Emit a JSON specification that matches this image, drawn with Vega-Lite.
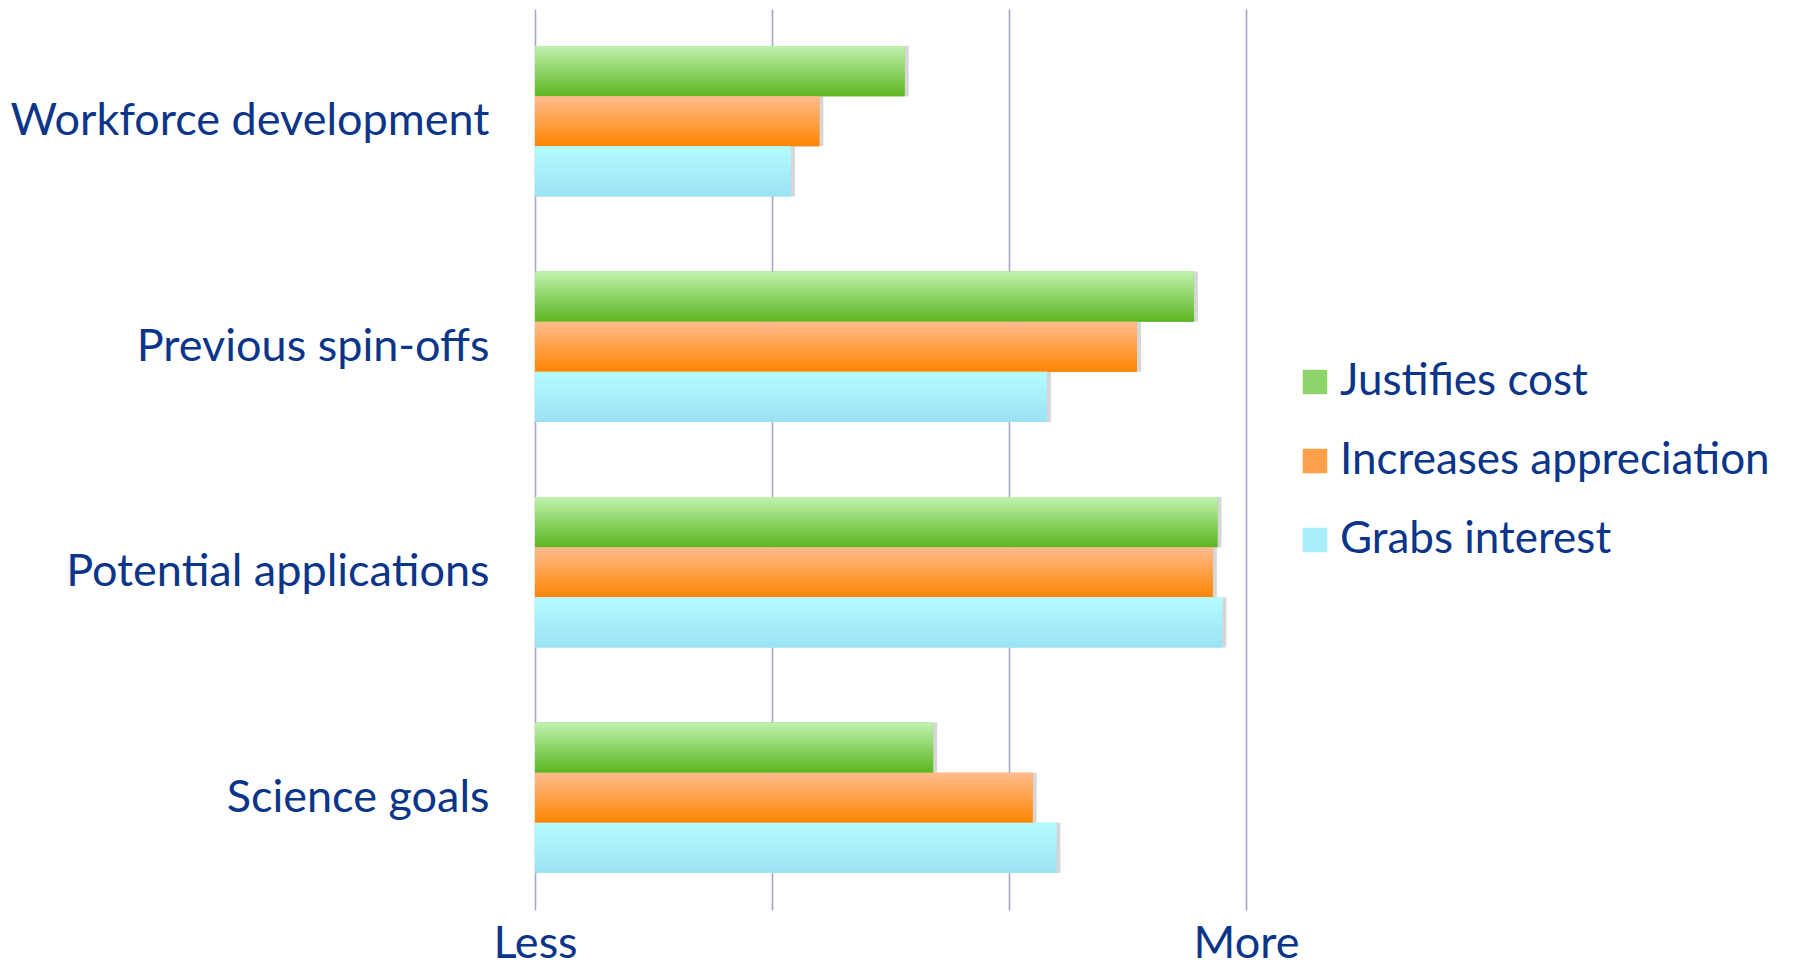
{
  "$schema": "https://vega.github.io/schema/vega-lite/v6.json",
  "autosize": {"type": "none"},
  "padding": {"left": 535, "top": 9, "right": 550, "bottom": 56},
  "width": 711,
  "height": 901,
  "background": "white",
  "config": {
    "view": {"stroke": null},
    "font": "Lato",
    "axis": {"labelFont": "Lato", "labelColor": "#0B3589", "labelFontSize": 45},
    "legend": {"labelFont": "Lato", "labelColor": "#0B3589", "labelFontSize": 44}
  },
  "data": {
    "values": [
      {"category": "Workforce development", "series": "Justifies cost", "value": 1.56},
      {"category": "Workforce development", "series": "Increases appreciation", "value": 1.20},
      {"category": "Workforce development", "series": "Grabs interest", "value": 1.08},
      {"category": "Previous spin-offs", "series": "Justifies cost", "value": 2.78},
      {"category": "Previous spin-offs", "series": "Increases appreciation", "value": 2.54},
      {"category": "Previous spin-offs", "series": "Grabs interest", "value": 2.16},
      {"category": "Potential applications", "series": "Justifies cost", "value": 2.88},
      {"category": "Potential applications", "series": "Increases appreciation", "value": 2.86},
      {"category": "Potential applications", "series": "Grabs interest", "value": 2.90},
      {"category": "Science goals", "series": "Justifies cost", "value": 1.68},
      {"category": "Science goals", "series": "Increases appreciation", "value": 2.10},
      {"category": "Science goals", "series": "Grabs interest", "value": 2.20}
    ]
  },
  "encoding": {
    "y": {
      "field": "category", "type": "nominal",
      "sort": ["Workforce development", "Previous spin-offs", "Potential applications", "Science goals"],
      "scale": {"paddingInner": 0.333, "paddingOuter": 0.164},
      "axis": {"title": null, "ticks": false, "domain": false, "grid": false, "labelPadding": 46, "labelLimit": 0}
    },
    "yOffset": {
      "field": "series", "type": "nominal",
      "sort": ["Justifies cost", "Increases appreciation", "Grabs interest"],
      "scale": {"paddingInner": 0, "paddingOuter": 0}
    },
    "x": {
      "field": "value", "type": "quantitative",
      "scale": {"domain": [0, 3], "nice": false},
      "axis": {
        "title": null, "values": [0, 1, 2, 3], "ticks": false, "domain": false,
        "grid": true, "gridColor": "#A3A8C6", "gridWidth": 1.6, "gridOpacity": 1,
        "labelPadding": 11, "labelFlush": false, "labelOverlap": false,
        "labelExpr": "datum.value == 0 ? 'Less' : datum.value == 3 ? 'More' : ''"
      }
    }
  },
  "layer": [
    {
      "mark": {"type": "bar", "fill": "#000000", "opacity": 0.16, "xOffset": 4, "yOffset": 5},
      "encoding": {}
    },
    {
      "mark": {"type": "bar"},
      "encoding": {
        "color": {
          "field": "series", "type": "nominal",
          "sort": ["Justifies cost", "Increases appreciation", "Grabs interest"],
          "scale": {"domain": ["Justifies cost", "Increases appreciation", "Grabs interest"], "range": ["#8ED46B", "#FFA04A", "#A9EEFA"]},
          "legend": {
            "title": null, "orient": "none", "legendX": 758, "legendY": 351,
            "symbolType": "square", "symbolSize": 600, "symbolStrokeWidth": 0,
            "rowPadding": 35, "labelOffset": 3, "labelLimit": 1000,
            "encode": {
              "symbols": {
                "enter": {
                  "fill": [
                    {"test": "datum.value === 'Justifies cost'", "value": {"gradient": "linear", "x1": 0, "y1": 0, "x2": 0, "y2": 1, "stops": [{"offset": 0, "color": "#C0F2AE"}, {"offset": 1, "color": "#5BB520"}]}},
                    {"test": "datum.value === 'Increases appreciation'", "value": {"gradient": "linear", "x1": 0, "y1": 0, "x2": 0, "y2": 1, "stops": [{"offset": 0, "color": "#FFBC8E"}, {"offset": 1, "color": "#FF8500"}]}},
                    {"value": {"gradient": "linear", "x1": 0, "y1": 0, "x2": 0, "y2": 1, "stops": [{"offset": 0, "color": "#B4FCFF"}, {"offset": 1, "color": "#9BE2F4"}]}}
                  ]
                },
                "update": {
                  "fill": [
                    {"test": "datum.value === 'Justifies cost'", "value": {"gradient": "linear", "x1": 0, "y1": 0, "x2": 0, "y2": 1, "stops": [{"offset": 0, "color": "#C0F2AE"}, {"offset": 1, "color": "#5BB520"}]}},
                    {"test": "datum.value === 'Increases appreciation'", "value": {"gradient": "linear", "x1": 0, "y1": 0, "x2": 0, "y2": 1, "stops": [{"offset": 0, "color": "#FFBC8E"}, {"offset": 1, "color": "#FF8500"}]}},
                    {"value": {"gradient": "linear", "x1": 0, "y1": 0, "x2": 0, "y2": 1, "stops": [{"offset": 0, "color": "#B4FCFF"}, {"offset": 1, "color": "#9BE2F4"}]}}
                  ],
                  "opacity": {"value": 1}
                }
              }
            }
          }
        }
      }
    },
    {
      "mark": {"type": "bar"},
      "encoding": {
        "fill": {
          "condition": [
            {"test": "datum.series === 'Justifies cost'", "value": {"gradient": "linear", "x1": 0, "y1": 0, "x2": 0, "y2": 1, "stops": [{"offset": 0, "color": "#C0F2AE"}, {"offset": 1, "color": "#5BB520"}]}},
            {"test": "datum.series === 'Increases appreciation'", "value": {"gradient": "linear", "x1": 0, "y1": 0, "x2": 0, "y2": 1, "stops": [{"offset": 0, "color": "#FFBC8E"}, {"offset": 1, "color": "#FF8500"}]}}
          ],
          "value": {"gradient": "linear", "x1": 0, "y1": 0, "x2": 0, "y2": 1, "stops": [{"offset": 0, "color": "#B4FCFF"}, {"offset": 1, "color": "#9BE2F4"}]}
        }
      }
    }
  ]
}
